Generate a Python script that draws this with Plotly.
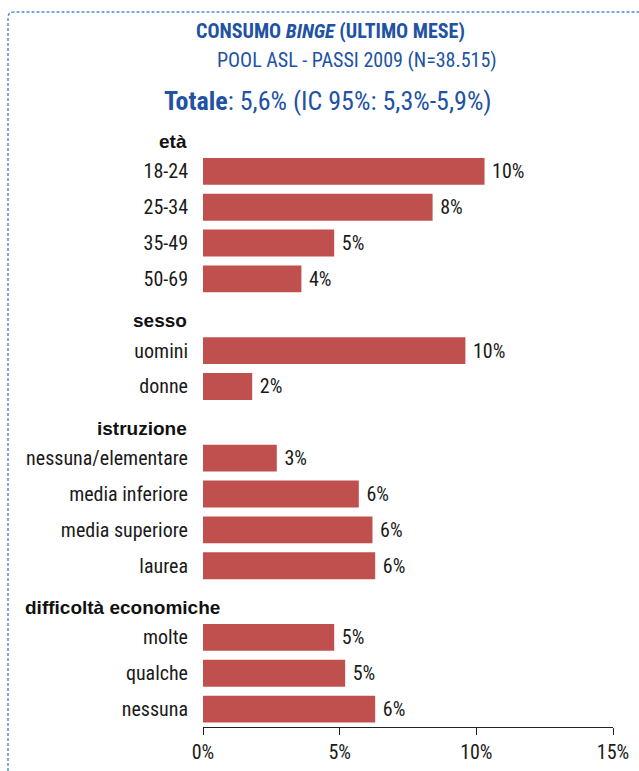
import plotly.graph_objects as go

# ---- data ----
group_titles = ["età", "sesso", "istruzione", "difficoltà economiche"]
eta_labels = ["18-24", "25-34", "35-49", "50-69"]
eta_values = [10.3, 8.4, 4.8, 3.6]
sesso_labels = ["uomini", "donne"]
sesso_values = [9.6, 1.8]
istr_labels = ["nessuna/elementare", "media inferiore", "media superiore", "laurea"]
istr_values = [2.7, 5.7, 6.2, 6.3]
diff_labels = ["molte", "qualche", "nessuna"]
diff_values = [4.8, 5.2, 6.3]
x_ticks = [0, 5, 10, 15]

groups = [(group_titles[0], eta_labels, eta_values),
          (group_titles[1], sesso_labels, sesso_values),
          (group_titles[2], istr_labels, istr_values),
          (group_titles[3], diff_labels, diff_values)]

cats, ys, xs = [], [], []
for title, labs, vals in groups:
    cats.append(title)
    for l, v in zip(labs, vals):
        cats.append(l)
        ys.append(l)
        xs.append(v)

W, H = 639, 771
ML, MR, MT, MB = 203, 26, 117, 44
PW, PH = W - ML - MR, H - MT - MB

NARROW = "Liberation Sans Narrow, Arial Narrow, Roboto Condensed, sans-serif"
BLUE = "#2152a3"

fig = go.Figure()
fig.add_trace(go.Bar(
    x=xs, y=ys, orientation="h",
    marker=dict(color="#c0504d", line=dict(width=0)),
    texttemplate=" %{x:.0f}%", textposition="outside",
    textfont=dict(family=NARROW, size=20, color="#1a1a1a"),
    cliponaxis=False, hoverinfo="skip",
))

annotations = []
for i, (title, labs, vals) in enumerate(groups):
    long = len(title) > 12
    annotations.append(dict(
        x=0 if not long else -0.44, xref="paper", y=title, yref="y",
        xanchor="right" if not long else "left", yanchor="middle",
        xshift=-14 if not long else 0,
        yshift=-6, text=f"<b>{title}</b>", showarrow=False,
        font=dict(family="Liberation Sans, Arial, sans-serif", size=19, color="#111"),
    ))

def px_x(p):
    return (p - ML) / PW

def px_y(p):
    return (H - MB - p) / PH

annotations += [
    dict(x=px_x(330), y=px_y(31), xref="paper", yref="paper", showarrow=False,
         xanchor="center", yanchor="middle",
         text="<b>CONSUMO <i>BINGE</i> (ULTIMO MESE)</b>",
         font=dict(family=NARROW, size=20, color=BLUE)),
    dict(x=px_x(357), y=px_y(60), xref="paper", yref="paper", showarrow=False,
         xanchor="center", yanchor="middle",
         text="POOL ASL - PASSI 2009 (N=38.515)",
         font=dict(family=NARROW, size=20, color=BLUE)),
    dict(x=px_x(328), y=px_y(101), xref="paper", yref="paper", showarrow=False,
         xanchor="center", yanchor="middle",
         text="<b>Totale</b>: 5,6% (IC 95%: 5,3%-5,9%)",
         font=dict(family=NARROW, size=26, color=BLUE)),
]

# decorative dashed frame
r = 6
path = (f"M {px_x(8)},{px_y(771)} L {px_x(8)},{px_y(12 + r)} "
        f"Q {px_x(8)},{px_y(12)} {px_x(8 + r)},{px_y(12)} L {px_x(639)},{px_y(12)}")
shapes = [dict(type="path", xref="paper", yref="paper", path=path,
               line=dict(color="#5b8bd0", width=1.5, dash="3px,2px"))]

fig.update_layout(
    width=W, height=H, margin=dict(l=ML, r=MR, t=MT, b=MB, autoexpand=False),
    paper_bgcolor="white", plot_bgcolor="white", showlegend=False,
    bargap=0.25, annotations=annotations, shapes=shapes,
    font=dict(family=NARROW, size=20, color="#1a1a1a"),
    xaxis=dict(range=[0, 15], tickvals=x_ticks, ticktext=[f"{t}%" for t in x_ticks],
               showgrid=False, zeroline=False, showline=True, linecolor="#222",
               linewidth=1, ticks="outside", ticklen=7, tickcolor="#222",
               ticklabelstandoff=0, automargin=False,
               tickfont=dict(family=NARROW, size=20, color="#1a1a1a"), fixedrange=True),
    yaxis=dict(type="category", categoryorder="array", categoryarray=cats,
               autorange="reversed", tickvals=ys, ticktext=ys,
               showgrid=False, zeroline=False, showline=False, ticks="",
               ticklabelstandoff=14, automargin=False,
               tickfont=dict(family=NARROW, size=20, color="#1a1a1a"), fixedrange=True),
)

fig.write_html("out.html")
